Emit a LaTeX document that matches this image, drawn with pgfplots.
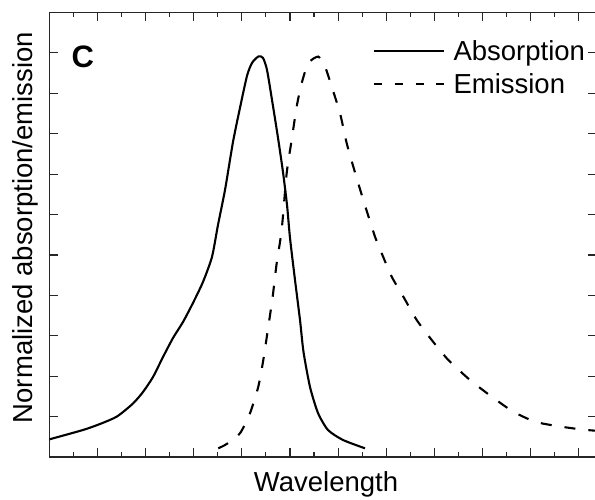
\documentclass[border=0pt]{standalone}
\usepackage{fontspec}
\setmainfont{Liberation Sans}
\usepackage{pgfplots}
\pgfplotsset{compat=1.18}
\begin{document}
\begin{tikzpicture}
\useasboundingbox (-49.5bp,-43bp) rectangle (545.5bp,457bp);
\begin{axis}[
  at={(0,0)}, anchor=south west,
  scale only axis, width=546.5bp, height=444.5bp,
  xmin=0, xmax=11.362, ymin=0, ymax=11,
  xtick={0,...,11}, minor x tick num=1,
  ytick={0,...,11},
  xticklabels={}, yticklabels={},
  tick align=inside,
  major tick length=8.5bp, minor tick length=4.5bp,
  axis line style={line width=1.4bp, black!85},
  every tick/.style={line width=1.1bp, black!85},
  xlabel={Wavelength},
  ylabel={Normalized absorption/emission},
  label style={font=\fontsize{27.5bp}{33bp}\selectfont},
  xlabel style={at={(axis description cs:0.506,-0.0765)}, anchor=base},
  ylabel style={at={(axis description cs:-0.032,0.5163)}, anchor=base},
  legend image code/.code={\draw[#1] (0bp,9.3bp) -- (70bp,9.3bp);},
  legend cell align=left,
  legend style={at={(axis description cs:0.592,0.938)}, anchor=north west,
    draw=none, fill=none, inner sep=0pt, outer sep=0pt,
    row sep=7.3bp, column sep=8.7bp,
    cells={anchor=base west},
    nodes={inner sep=0pt, outer sep=0pt, text height=20bp, text depth=6bp,
      font=\fontsize{27.5bp}{33bp}\selectfont}},
]
\addplot[black, line width=2.1bp, smooth, tension=0.4,
  legend image post style={line width=1.8bp}] coordinates {
(0,0.438) (0.696,0.668) (1.050,0.817) (1.403,1.002) (1.736,1.324)
(1.944,1.609) (2.152,1.980) (2.360,2.475) (2.568,2.946) (2.776,3.342)
(2.983,3.812) (3.191,4.332) (3.378,4.950) (3.503,5.743) (3.649,6.609)
(3.815,7.797) (3.960,8.639) (4.106,9.431) (4.210,9.752) (4.345,9.913)
(4.439,9.876) (4.522,9.579) (4.626,8.837) (4.751,7.896) (4.854,7.054)
(4.938,6.238) (5.000,5.421) (5.104,4.381) (5.208,3.391) (5.281,2.599)
(5.416,1.733) (5.582,1.089) (5.790,0.668) (6.102,0.421) (6.559,0.215)
};
\addlegendentry{Absorption}
\addplot[black, line width=2.1bp, dash pattern=on 11bp off 13bp, smooth, tension=0.4,
  legend image post style={line width=1.8bp, dash pattern=on 8.5bp off 12.3bp}] coordinates {
(3.509,0.215) (3.684,0.322) (3.960,0.587) (4.168,1.082) (4.341,1.740)
(4.445,2.401) (4.549,3.225) (4.640,3.968) (4.723,4.795) (4.827,5.619)
(4.931,7.022) (5.035,7.847) (5.139,8.671) (5.243,9.250) (5.380,9.745)
(5.588,9.908) (5.728,9.661) (5.867,9.166) (6.040,8.507) (6.179,7.765)
(6.316,7.186) (6.524,6.361) (6.767,5.453) (6.906,5.042) (7.114,4.463)
(7.356,3.968) (7.634,3.391) (7.946,2.896) (8.291,2.401) (8.742,1.906)
(9.193,1.493) (9.642,1.121) (10.094,0.874) (10.545,0.767) (11.029,0.686)
(11.341,0.651)
};
\addlegendentry{Emission}
\end{axis}
\node[anchor=base west, font=\fontsize{31bp}{36bp}\selectfont\bfseries] at (18.5bp,389bp) {C};
\end{tikzpicture}
\end{document}
